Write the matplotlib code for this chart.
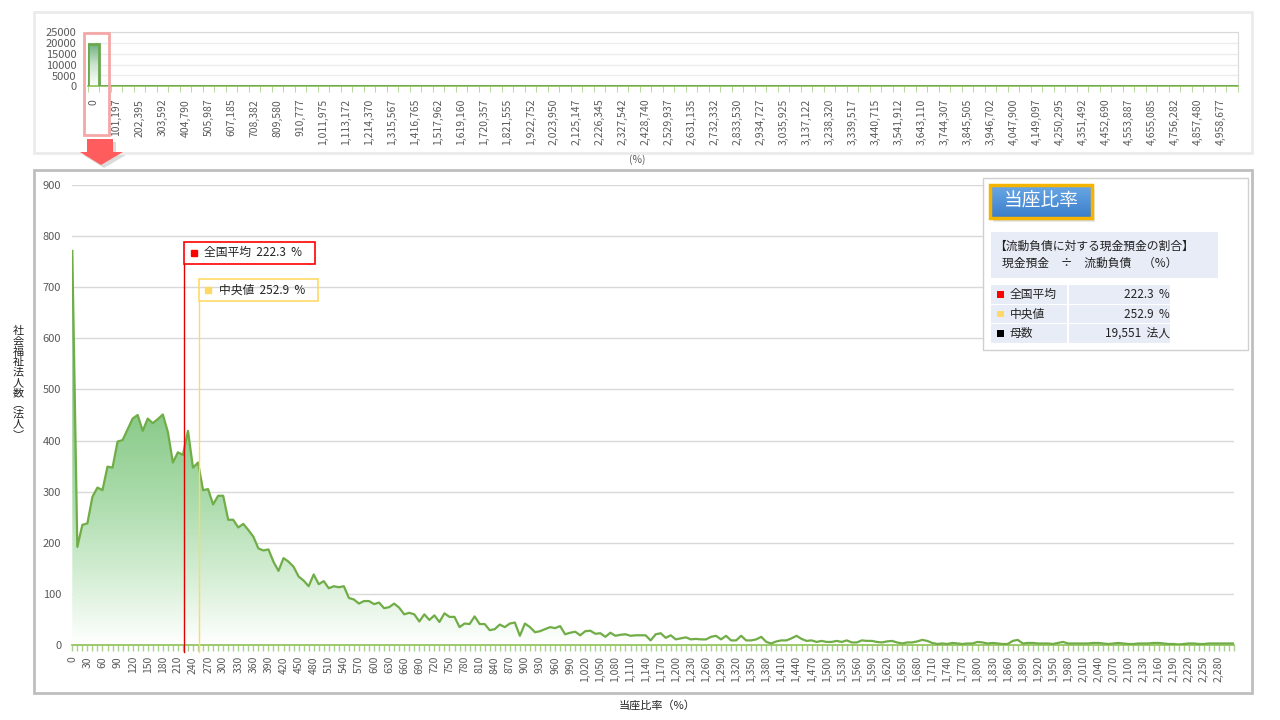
import numpy as np
import matplotlib
matplotlib.use("Agg")
import matplotlib.pyplot as plt
from matplotlib.patches import Rectangle, Polygon
from matplotlib.colors import LinearSegmentedColormap

plt.rcParams['font.family'] = ['Noto Sans CJK JP', 'DejaVu Sans']

# 当座比率 10% 刻み (0 .. 2,310)
bin_width = 10
counts = [
    771, 192, 235, 238, 290, 308, 303, 349, 347, 398,
    401, 422, 443, 450, 419, 443, 434, 442, 451, 417,
    357, 377, 372, 419, 347, 357, 303, 305, 275, 292,
    292, 245, 245, 230, 237, 225, 212, 189, 185, 187,
    163, 145, 170, 163, 153, 134, 126, 115, 138, 119,
    125, 111, 115, 113, 115, 92, 89, 81, 86, 86,
    80, 83, 72, 74, 81, 73, 60, 63, 60, 46,
    60, 49, 58, 45, 62, 55, 55, 35, 42, 41,
    56, 41, 41, 29, 31, 40, 35, 42, 44, 18,
    42, 35, 25, 27, 31, 35, 33, 37, 21, 24,
    26, 19, 27, 28, 22, 23, 16, 24, 18, 20,
    21, 18, 19, 19, 19, 9, 21, 23, 14, 19,
    11, 13, 15, 11, 12, 11, 11, 16, 18, 11,
    18, 9, 9, 18, 9, 9, 11, 16, 6, 3,
    7, 9, 9, 13, 18, 12, 8, 9, 6, 8,
    6, 6, 8, 6, 9, 5, 5, 9, 8, 8,
    6, 5, 7, 8, 5, 3, 5, 5, 7, 10,
    8, 4, 2, 3, 2, 4, 3, 2, 3, 3,
    6, 5, 3, 4, 3, 2, 2, 8, 10, 3,
    4, 4, 3, 3, 3, 2, 4, 6, 3, 3,
    3, 3, 3, 4, 4, 3, 2, 3, 4, 3,
    2, 2, 3, 3, 3, 4, 4, 3, 2, 2,
    1, 2, 3, 3, 2, 2, 3, 3, 3, 3,
    3, 3,
]

# 全体分布 (上段)
over_step = 50598.75
over_counts = [19390, 130] + [0] * 97 + [31]

mean_val = 222.3
median_val = 252.9
n_total = 19551

title = "当座比率"
info_lines = ["【流動負債に対する現金預金の割合】", "現金預金　÷　流動負債　（%）"]

W, H = 1280, 720


def fr(x0, y0, x1, y1):
    return [x0 / W, 1 - y1 / H, (x1 - x0) / W, (y1 - y0) / H]


def gradient_area(ax, xs, ys, cmap, top):
    verts = np.column_stack([np.r_[xs[0], xs, xs[-1]], np.r_[0, ys, 0]])
    poly = Polygon(verts, closed=True, fc='none', ec='none')
    ax.add_patch(poly)
    grad = np.linspace(0, 1, 256).reshape(-1, 1)
    im = ax.imshow(grad, cmap=cmap, aspect='auto', origin='lower',
                   extent=[xs[0], xs[-1], 0, top], zorder=1)
    im.set_clip_path(poly)


fig = plt.figure(figsize=(12.8, 7.2), dpi=100)
fig.patch.set_facecolor('white')
grey = '#595959'
axis_green = '#8cc152'
tick_green = '#a9d18e'

# ---- 上段 ----
axt = fig.add_axes(fr(87.7, 32.3, 1238, 86.3))
edges = np.arange(len(over_counts) + 1) - 0.5
vals = np.array(over_counts, dtype=float)
cmap_top = LinearSegmentedColormap.from_list('gt', ['#ffffff', '#c9e3cd', '#68ab7a'])
gradient_area(axt, np.repeat(edges, 2)[1:-1], np.repeat(vals, 2), cmap_top, 20000)
axt.stairs(vals, edges, color='#6aa84f', lw=2, zorder=3)
axt.set_xlim(-0.5, len(over_counts) - 0.5)
axt.set_ylim(0, 25000)
axt.set_yticks(range(0, 25001, 5000))
axt.grid(axis='y', color='#ececec', lw=1)
axt.set_axisbelow(True)
major = np.arange(0, len(over_counts), 2)
axt.set_xticks(major)
axt.set_xticklabels([f"{int(i * over_step):,}" for i in major])
axt.set_xticks(edges, minor=True)
axt.tick_params(axis='x', which='major', length=0, pad=9, labelsize=7.5,
                labelcolor=grey, rotation=90)
axt.tick_params(axis='x', which='minor', length=4, color=tick_green)
axt.tick_params(axis='y', length=0, pad=8, labelsize=8, labelcolor=grey)
axt.spines['left'].set_visible(False)
for s in ['top', 'right']:
    axt.spines[s].set_color('#d9d9d9')
axt.spines['bottom'].set_color(axis_green)
axt.spines['bottom'].set_linewidth(1.2)
fig.text(637 / W, 1 - 160 / H, "(%)", ha='center', va='center', fontsize=7.5, color=grey)

# ---- 下段 ----
ax = fig.add_axes(fr(72.3, 185, 1234, 645))
x = np.arange(len(counts))
cmap = LinearSegmentedColormap.from_list(
    'g', [(0, '#ffffff'), (0.15, '#d9f0d9'), (0.35, '#acdcac'),
          (0.55, '#8ccb8c'), (1, '#5aa85a')])
gradient_area(ax, x, np.array(counts, float), cmap, 800)
ax.plot(x, counts, color='#70ad47', lw=1.6, zorder=3)
ax.set_xlim(0, len(counts) - 1)
ax.set_ylim(0, 900)
ax.set_yticks(range(0, 901, 100))
ax.grid(axis='y', color='#d9d9d9', lw=1)
ax.set_axisbelow(True)
major = x[:-1:3]
ax.set_xticks(major)
ax.set_xticklabels([f"{i * bin_width:,}" for i in major])
ax.set_xticks(x, minor=True)
ax.tick_params(axis='x', which='both', length=4, color=tick_green, width=1)
ax.tick_params(axis='x', which='major', pad=4, labelsize=7.5, labelcolor=grey,
               rotation=90)
ax.tick_params(axis='y', length=0, pad=8, labelsize=8, labelcolor=grey)
for s in ['left', 'top', 'right']:
    ax.spines[s].set_visible(False)
ax.spines['bottom'].set_color(axis_green)
ax.spines['bottom'].set_linewidth(1.2)

# 平均・中央値
mx = mean_val / bin_width
ax.plot([mx, mx], [-13, 746], color='#e00000', lw=1, clip_on=False, zorder=4)
ax.add_patch(Rectangle((mx, 746), 26.1, 43, fill=False, ec='#ff0000', lw=1.2,
                       clip_on=False, zorder=5))
ax.plot(mx + 1.9, 767.5, marker='s', ms=5, color='#ff0000', clip_on=False, zorder=5)
ax.text(mx + 4.0, 767.5, f"全国平均  {mean_val}  %", va='center', ha='left',
        fontsize=8.5, color='#222222', zorder=5)

dx = median_val / bin_width
ax.plot([dx, dx], [-13, 673], color='#ffd966', lw=1, clip_on=False, zorder=4)
ax.add_patch(Rectangle((dx, 673), 23.6, 43, fill=False, ec='#ffd966', lw=1.2,
                       clip_on=False, zorder=5))
ax.plot(dx + 1.75, 694.5, marker='s', ms=5, color='#ffd966', clip_on=False, zorder=5)
ax.text(dx + 3.9, 694.5, f"中央値  {median_val}  %", va='center', ha='left',
        fontsize=8.5, color='#222222', zorder=5)

fig.text(657 / W, 1 - 705 / H, "当座比率（%）", ha='center', va='center',
         fontsize=8, color='#222222')
ylab = "\n".join(list("社会福祉法人数") + ["︵", "法", "人", "︶"])
fig.text(18 / W, 1 - 383 / H, ylab, ha='center', va='center', fontsize=8,
         linespacing=1.05, color='#222222')

# ---- 枠・矢印・凡例 (ピクセル座標) ----
ov = fig.add_axes([0, 0, 1, 1])
ov.set_zorder(10)
ov.patch.set_alpha(0)
ov.axis('off')

ov.add_patch(Rectangle((34, 12), 1218, 141, fill=False, ec='#ebebeb', lw=2))
ov.add_patch(Rectangle((34, 170), 1218, 523, fill=False, ec='#bfbfbf', lw=2))
ov.add_patch(Rectangle((83.5, 33), 25.5, 101.5, fill=False, ec='#f4a7a7', lw=2))

arrow = np.array([[87, 139], [113, 139], [113, 152], [123, 152], [101, 165],
                  [80, 152], [87, 152]])
ov.add_patch(Polygon(arrow + [3, 3], closed=True, fc='#999999', ec='none', alpha=0.35))
ov.add_patch(Polygon(arrow, closed=True, fc='#ff5d5d', ec='none'))

# 凡例パネル
ov.add_patch(Rectangle((983, 178), 265, 172, fc='white', ec='#d0d0d0', lw=1))
for k, a in enumerate([0.12, 0.12, 0.15, 0.2]):
    ov.add_patch(Rectangle((993 + k, 189 + k), 102 - 2 * k, 33 - 2 * k,
                           fc='#555555', ec='none', alpha=a))
btn = np.linspace(0, 1, 64).reshape(-1, 1)
bcmap = LinearSegmentedColormap.from_list('b', ['#3b7dca', '#6aa8e6'])
ov.imshow(btn, cmap=bcmap, aspect='auto', origin='lower',
          extent=[990, 1092, 218, 185], zorder=2)
ov.add_patch(Rectangle((990, 185), 102, 33, fill=False, ec='#f5b400', lw=2.5, zorder=3))
ov.text(1041, 201.5, title, ha='center', va='center', fontsize=13.5, color='white', zorder=4)

ov.add_patch(Rectangle((991, 232), 227, 46, fc='#e8ecf6', ec='none'))
ov.text(994, 246, info_lines[0], ha='left', va='center', fontsize=8.5, color='#222222')
ov.text(1002, 263, info_lines[1], ha='left', va='center', fontsize=8.5, color='#222222')

rows = [("全国平均", f"{mean_val}  %", '#ff0000'),
        ("中央値", f"{median_val}  %", '#ffd966'),
        ("母数", f"{n_total:,}  法人", '#000000')]
for i, (lab, val, col) in enumerate(rows):
    y0 = 285 + i * 19.5
    ov.add_patch(Rectangle((991, y0), 76, 18.5, fc='#e8ecf6', ec='none'))
    ov.add_patch(Rectangle((1068.5, y0), 101.5, 18.5, fc='#e8ecf6', ec='none'))
    ov.add_patch(Rectangle((997, y0 + 6), 6.5, 6.5, fc=col, ec='none'))
    ov.text(1010, y0 + 9.5, lab, ha='left', va='center', fontsize=8.5, color='#222222')
    ov.text(1170, y0 + 9.5, val, ha='right', va='center', fontsize=8.5, color='#222222')

ov.set_xlim(0, W)
ov.set_ylim(H, 0)

fig.savefig("out.png", dpi=100)
